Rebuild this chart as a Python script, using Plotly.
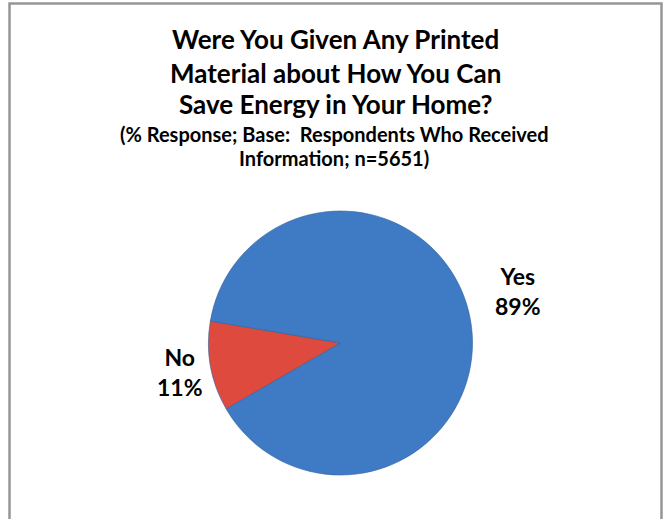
import plotly.graph_objects as go

labels = ["No", "Yes"]
values = [11, 89]
colors = ["#DE4A3D", "#3F7AC5"]
title_lines = ["Were You Given Any Printed", "Material about How You Can", "Save Energy in Your Home?"]
subtitle_lines = ["(% Response; Base:  Respondents Who Received", "Information; n=5651)"]

W, H = 665, 519
FONT = "Lato"

def px(x):
    return x / W

def py(y):
    return 1 - y / H

cx, cy, r = 340.5, 343, 132

fig = go.Figure(go.Pie(
    labels=labels, values=values, sort=False, direction="clockwise", rotation=240,
    marker=dict(colors=colors, line=dict(width=0.6, color="#2F5F9E")),
    textinfo="none", hoverinfo="label+percent", showlegend=False,
    domain=dict(x=[px(cx - r), px(cx + r)], y=[py(cy + r), py(cy - r)]),
))

ann = []
for t, y in zip(title_lines, [39, 73, 104]):
    ann.append(dict(text=f"<b>{t}</b>", x=px(335), y=py(y), xref="paper", yref="paper",
                    xanchor="center", yanchor="middle", showarrow=False,
                    font=dict(family=FONT, size=26, color="black")))
for t, y in zip(subtitle_lines, [134, 158]):
    ann.append(dict(text=f"<b>{t}</b>", x=px(334), y=py(y), xref="paper", yref="paper",
                    xanchor="center", yanchor="middle", showarrow=False,
                    font=dict(family=FONT, size=20, color="black")))
total = sum(values)
label_pos = {"Yes": (518, 291), "No": (180, 372)}
for lab, v in zip(labels, values):
    x, y = label_pos[lab]
    ann.append(dict(text=f"<b>{lab}<br>{round(100*v/total)}%</b>", x=px(x), y=py(y),
                    xref="paper", yref="paper", xanchor="center", yanchor="middle",
                    showarrow=False, align="center",
                    font=dict(family=FONT, size=23, color="black")))

fig.update_layout(
    width=W, height=H, margin=dict(l=0, r=0, t=0, b=0),
    paper_bgcolor="white", plot_bgcolor="white",
    annotations=ann,
    shapes=[dict(type="rect", xref="paper", yref="paper",
                 x0=px(9.5), x1=px(661.5), y0=py(530), y1=py(3.5),
                 line=dict(color="#969696", width=2.5), fillcolor="rgba(0,0,0,0)")],
)
fig.write_html("out.html")
